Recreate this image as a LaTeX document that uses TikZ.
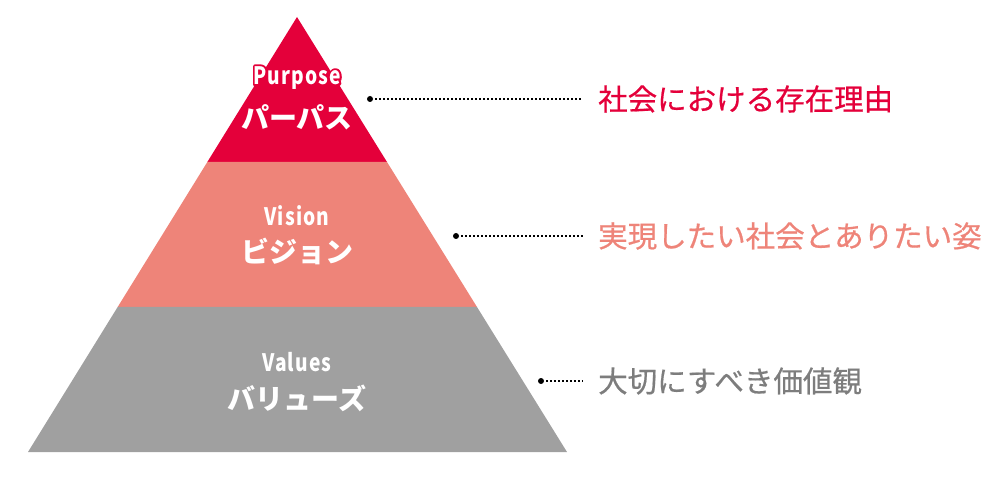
\documentclass[tikz,border=0pt]{standalone}
\usepackage{fontspec}
\newfontfamily\jpfont{Noto Sans CJK JP}
\newfontfamily\jpmedium[FakeBold=0.6]{Noto Sans CJK JP}
\newfontfamily\enfont[LetterSpace=6]{Noto Sans CJK JP}
\usetikzlibrary{calc,positioning}

\definecolor{purposered}{HTML}{E4003A}
\definecolor{visionpink}{HTML}{EE8479}
\definecolor{valuesgray}{HTML}{A0A0A0}
\definecolor{textgray}{HTML}{7D7D7D}

\tikzset{
  enlabel/.style={text=white, font=\enfont\bfseries\fontsize{24}{26}\selectfont, inner sep=0pt},
  jplabel/.style={text=white, font=\jpfont\bfseries\fontsize{28}{30}\selectfont, inner sep=0pt},
  dotmark/.style={circle, fill=black, inner sep=0pt, minimum size=6pt},
  leader/.style={line width=1.3pt, dash pattern=on 1.3pt off 2.7pt, shorten <=2pt, shorten >=15pt},
  desc/.style={anchor=west, font=\jpmedium\fontsize{29.5}{32}\selectfont, inner sep=0pt}
}

\newcommand{\condensed}[1]{\scalebox{0.8}[1]{#1}}
% white letters with a red rim round them
\newcommand{\rimmed}[1]{\rlap{\color{purposered}\special{pdf:literal direct 1 j 4.5 w 0.894 0 0.227 RG 2 Tr}#1\special{pdf:literal direct 0 Tr 1 w}}#1}

\begin{document}
\begin{tikzpicture}[x=1pt,y=1pt]
    \useasboundingbox (0,0) rectangle (1000,490);

    % Pyramid corners
    \coordinate (apex) at (297,473);
    \coordinate (bl) at (28,38);
    \coordinate (br) at (567,38);
    \coordinate (l1) at ($(apex)!1/3!(bl)$);
    \coordinate (r1) at ($(apex)!1/3!(br)$);
    \coordinate (l2) at ($(apex)!2/3!(bl)$);
    \coordinate (r2) at ($(apex)!2/3!(br)$);

    % Bands
    \fill[purposered] (apex) -- (r1) -- (l1) -- cycle;
    \fill[visionpink] (l1) -- (r1) -- (r2) -- (l2) -- cycle;
    \fill[valuesgray] (l2) -- (r2) -- (br) -- (bl) -- cycle;

    % Labels in the pyramid
    \node[enlabel] (purpose) at (297,412) {\condensed{\rimmed{Purpose}}};
    \node[jplabel] (purposejp) at (297,373) {パーパス};
    \node[enlabel] (vision) at (297,274) {\condensed{Vision}};
    \node[jplabel] (visionjp) at (297,239) {ビジョン};
    \node[enlabel] (values) at (297,128) {\condensed{Values}};
    \node[jplabel] (valuesjp) at (297,92) {バリューズ};

    % Leaders and descriptions
    \node[dotmark] (pdot) at (370,391) {};
    \node[desc, text=purposered] (ptext) at (598,391) {社会における存在理由};
    \draw[leader] (pdot) -- (ptext.west);

    \node[dotmark] (vdot) at (456,254) {};
    \node[desc, text=visionpink] (vtext) at (598,254) {実現したい社会とありたい姿};
    \draw[leader] (vdot) -- (vtext.west);

    \node[dotmark] (wdot) at (541,109) {};
    \node[desc, text=textgray] (wtext) at (598,109) {大切にすべき価値観};
    \draw[leader] (wdot) -- (wtext.west);
\end{tikzpicture}
\end{document}
